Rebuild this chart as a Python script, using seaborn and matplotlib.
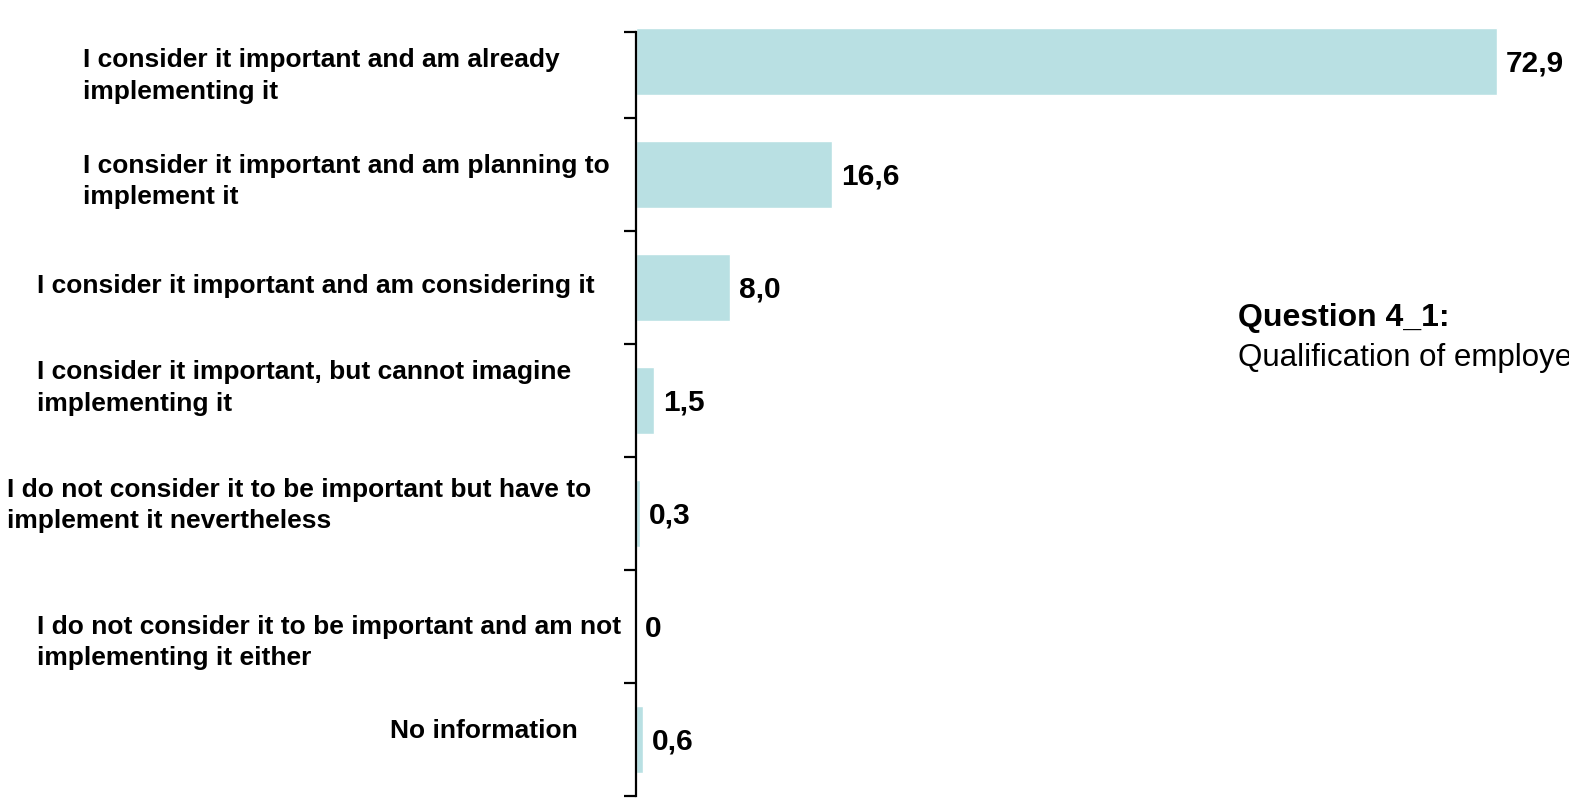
import matplotlib
matplotlib.use("Agg")
import matplotlib.pyplot as plt
import matplotlib.transforms as mtransforms
import seaborn as sns
import pandas as pd

categories = [
    "I consider it important and am already\nimplementing it",
    "I consider it important and am planning to\nimplement it",
    "I consider it important and am considering it",
    "I consider it important, but cannot imagine\nimplementing it",
    "I do not consider it to be important but have to\nimplement it nevertheless",
    "I do not consider it to be important and am not\nimplementing it either",
    "No information",
]
values = [72.9, 16.6, 8.0, 1.5, 0.3, 0.0, 0.6]
value_labels = ["72,9", "16,6", "8,0", "1,5", "0,3", "0", "0,6"]
question_title = "Question 4_1:"
question_text = "Qualification of employees"

# label block placement (figure pixels for x, data-unit shift for y)
label_x_px = [83, 83, 37, 37, 7, 37, 390]
label_dy = [0.12, 0.05, -0.02, -0.12, -0.08, 0.13, -0.08]

sns.set_theme(style="white")
plt.rcParams["font.family"] = ["Liberation Sans", "DejaVu Sans"]

W, H = 1569, 803
fig = plt.figure(figsize=(W / 100, H / 100), dpi=100)
ax = fig.add_axes([636 / W, 6 / H, 1 - 636 / W, 791 / H])

df = pd.DataFrame({"cat": categories, "val": values})
sns.barplot(data=df, x="val", y="cat", orient="h", color="#B9E0E3",
            saturation=1, width=0.6, ax=ax)

px_per_unit = 861 / 72.9
ax.set_xlim(0, (W - 636) / px_per_unit)
ax.set_ylim(6.5, -0.5)

for s in ["top", "right", "bottom"]:
    ax.spines[s].set_visible(False)
ax.spines["left"].set_color("black")
ax.spines["left"].set_linewidth(1.6)
top_lim = -0.5 + 27 / 113
ax.spines["left"].set_bounds(top_lim, 6.5)
ax.set_yticks([top_lim] + [i + 0.5 for i in range(7)])
ax.set_yticklabels([])
ax.tick_params(axis="y", which="major", direction="out", length=9, width=1.6,
               color="black", left=True)
ax.set_xticks([])
ax.set_xlabel("")
ax.set_ylabel("")

# value labels just right of each bar
off = mtransforms.offset_copy(ax.transData, fig=fig, x=9, y=0, units="dots")
for i, (v, t) in enumerate(zip(values, value_labels)):
    ax.text(v, i + 0.01, t, transform=off, ha="left", va="center",
            fontsize=21.5, fontweight="bold", color="black")

# category labels as left-aligned blocks
tr = mtransforms.blended_transform_factory(fig.transFigure, ax.transData)
for i, (lab, xp, dy) in enumerate(zip(categories, label_x_px, label_dy)):
    ax.text(xp / W, i + dy, lab, transform=tr, ha="left", va="center",
            fontsize=19, fontweight="bold", color="black",
            linespacing=1.38, clip_on=False)

fig.text(1238 / W, 1 - 318 / H, question_title, ha="left", va="center",
         fontsize=23, fontweight="bold", color="black")
fig.text(1238 / W, 1 - 358 / H, question_text, ha="left", va="center",
         fontsize=22.5, color="black")

fig.savefig("out.png", dpi=100)
